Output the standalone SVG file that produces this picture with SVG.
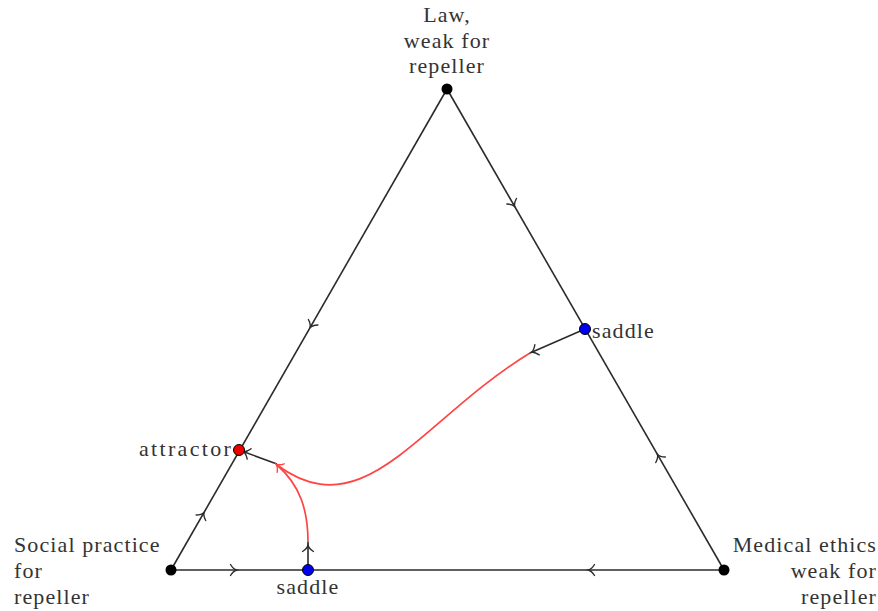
<svg xmlns="http://www.w3.org/2000/svg" xmlns:xlink="http://www.w3.org/1999/xlink" width="878" height="611" viewBox="0 0 878 611">
<style>
.edge{fill:none;stroke:#2b2b2b;stroke-width:1.6}
.red{fill:none;stroke:#ff4444;stroke-width:1.7}
.ah{fill:none;stroke-width:1.4;stroke-linecap:round}
text{font-family:"Liberation Serif","DejaVu Serif",serif;font-size:22px;fill:#333;letter-spacing:1.1px}
.dot{stroke:#000;stroke-width:1}
</style>
<defs>
<path id="ah" d="M -5.5,-5.5 C -3.6,-2.4 -1.2,-0.5 0.7,0 C -1.2,0.5 -3.6,2.4 -5.5,5.5"/>
</defs>
<g id="connectors">
<line class="edge" x1="447" y1="89" x2="171" y2="570"/>
<line class="edge" x1="447" y1="89" x2="724" y2="570"/>
<line class="edge" x1="171" y1="570" x2="724" y2="570"/>
<line class="edge" x1="585" y1="329" x2="530" y2="353"/>
<line class="edge" x1="308" y1="570" x2="308" y2="542"/>
<line class="edge" x1="277" y1="464" x2="239" y2="450"/>
<path class="red" d="M530,353 C420,420 365,530 277,465"/>
<path class="red" d="M308,542 C308,510 300,485 277,465"/>
<use href="#ah" class="ah" stroke="#2b2b2b" transform="translate(310.4,327) rotate(119.85)"/>
<use href="#ah" class="ah" stroke="#2b2b2b" transform="translate(203.7,513) rotate(-60.15)"/>
<use href="#ah" class="ah" stroke="#2b2b2b" transform="translate(514.4,206) rotate(60.07)"/>
<use href="#ah" class="ah" stroke="#2b2b2b" transform="translate(657.8,455) rotate(-119.93)"/>
<use href="#ah" class="ah" stroke="#2b2b2b" transform="translate(236,570)"/>
<use href="#ah" class="ah" stroke="#2b2b2b" transform="translate(589,570) rotate(180)"/>
<use href="#ah" class="ah" stroke="#2b2b2b" transform="translate(308,546) rotate(-90)"/>
<use href="#ah" class="ah" stroke="#2b2b2b" transform="translate(532,352) rotate(156.4)"/>
<use href="#ah" class="ah" stroke="#2b2b2b" transform="translate(244,452) rotate(200.7)"/>
<use href="#ah" class="ah" stroke="#ff4444" transform="translate(276.5,464.5) rotate(-140)"/>
</g>
<g id="law">
<circle cx="447" cy="89" r="5.5" fill="#000"/>
<text x="447" y="22" text-anchor="middle">Law,</text>
<text x="447" y="47.5" text-anchor="middle">weak for</text>
<text x="447" y="73" text-anchor="middle">repeller</text>
</g>
<g id="social">
<circle cx="171" cy="570" r="5.5" fill="#000"/>
<text x="14" y="552">Social practice</text>
<text x="14" y="578">for</text>
<text x="14" y="603.5">repeller</text>
</g>
<g id="medical">
<circle cx="724" cy="570" r="5.5" fill="#000"/>
<text x="877" y="552" text-anchor="end">Medical ethics</text>
<text x="877" y="578" text-anchor="end">weak for</text>
<text x="877" y="603.5" text-anchor="end">repeller</text>
</g>
<g id="saddle-right">
<circle class="dot" cx="585" cy="329" r="5.5" fill="#0000ee"/>
<text x="592" y="338">saddle</text>
</g>
<g id="saddle-bottom">
<circle class="dot" cx="308" cy="570" r="5.5" fill="#0000ee"/>
<text x="308" y="594" text-anchor="middle">saddle</text>
</g>
<g id="attractor">
<circle class="dot" cx="239" cy="450" r="5.5" fill="#ee0000"/>
<text x="139" y="456" textLength="93" lengthAdjust="spacing">attractor</text>
</g>
</svg>
